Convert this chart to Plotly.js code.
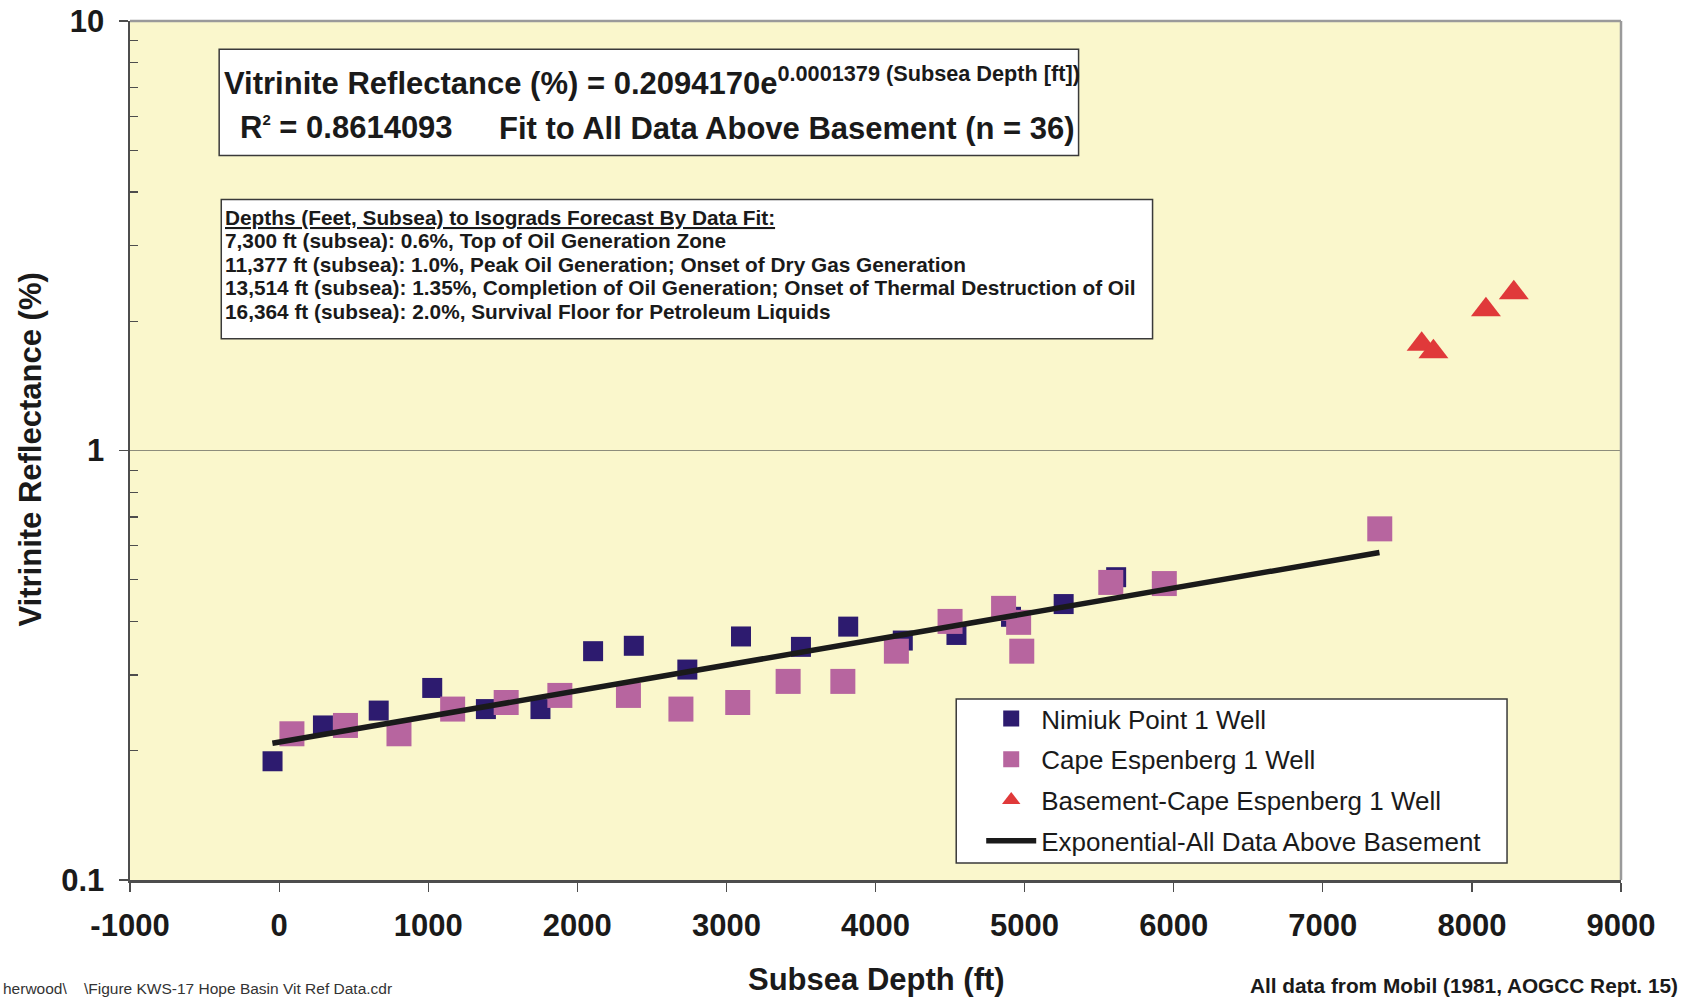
<!DOCTYPE html>
<html>
<head>
<meta charset="utf-8">
<script src="https://cdn.plot.ly/plotly-3.0.1.min.js"></script>
<style>
  html, body { margin: 0; padding: 0; background: #ffffff; }
  #chart { width: 1681px; height: 998px; }
</style>
</head>
<body>
<div id="chart"></div>
<script>
// ---------------- data ----------------
const nimiukDepth = [-44, 294, 668, 1027, 1387, 1753, 2106, 2379, 2738, 3098, 3500, 3817, 4183, 4543, 4909, 5262, 5614];
const nimiukVR    = [0.189, 0.229, 0.248, 0.280, 0.250, 0.250, 0.341, 0.351, 0.309, 0.369, 0.349, 0.389, 0.361, 0.372, 0.410, 0.439, 0.507];

const capeDepth = [86, 445, 804, 1164, 1523, 1883, 2343, 2695, 3076, 3414, 3781, 4140, 4500, 4859, 4960, 4981, 5578, 5937, 7382];
const capeVR    = [0.219, 0.229, 0.219, 0.250, 0.259, 0.269, 0.269, 0.250, 0.259, 0.290, 0.290, 0.341, 0.400, 0.429, 0.398, 0.341, 0.493, 0.490, 0.657];

const basementDepth = [7663, 7742, 8094, 8281];
const basementVR    = [1.768, 1.698, 2.126, 2.331];

const fitDepth = [-45, 7380];
const fitVR    = [0.2081, 0.5786];

const seriesNames = [
  "Nimiuk Point 1 Well",
  "Cape Espenberg 1 Well",
  "Basement-Cape Espenberg 1 Well",
  "Exponential-All Data Above Basement"
];

const xTickVals = [-1000, 0, 1000, 2000, 3000, 4000, 5000, 6000, 7000, 8000, 9000];
const xTickText = ["-1000", "0", "1000", "2000", "3000", "4000", "5000", "6000", "7000", "8000", "9000"];
const yTickVals = [0.1, 1, 10];
const yTickText = ["0.1", "1", "10"];
const yMinorVals = [0.2, 0.3, 0.4, 0.5, 0.6, 0.7, 0.8, 0.9, 2, 3, 4, 5, 6, 7, 8, 9];

const eqLine1 = "Vitrinite Reflectance (%) = 0.2094170e<sup>0.0001379 (Subsea Depth [ft])</sup>";
const eqLine2a = "R<sup><span style=\"font-size:15px\">2</span></sup> = 0.8614093";
const eqLine2b = "Fit to All Data Above Basement (n = 36)";
const isoLines = [
  "<span style=\"text-decoration:underline\">Depths (Feet, Subsea) to Isograds Forecast By Data Fit:</span>",
  "7,300 ft (subsea): 0.6%, Top of Oil Generation Zone",
  "11,377 ft (subsea): 1.0%, Peak Oil Generation; Onset of Dry Gas Generation",
  "13,514 ft (subsea): 1.35%, Completion of Oil Generation; Onset of Thermal Destruction of Oil",
  "16,364 ft (subsea): 2.0%, Survival Floor for Petroleum Liquids"
];
const xTitle = "Subsea Depth (ft)";
const yTitle = "Vitrinite Reflectance (%)";
const sourceNote = "All data from Mobil (1981, AOGCC Rept. 15)";
const fileNote = "herwood\\    \\Figure KWS-17 Hope Basin Vit Ref Data.cdr";

// ---------------- layout helpers ----------------
const W = 1681, H = 998;
const L = 129.5, R = 1621, T = 21, B = 880;
const px = p => (p - L) / (R - L);
const py = p => (B - p) / (B - T);
const FONT = "Liberation Sans, Arial, Helvetica, sans-serif";
const INK = "#1a1a1a";

const traces = [
  {
    x: nimiukDepth, y: nimiukVR, name: seriesNames[0], type: "scatter", mode: "markers",
    marker: { symbol: "square", size: 20, color: "#2d1b6f", line: { width: 0 } },
    legendgroup: "a"
  },
  {
    x: capeDepth, y: capeVR, name: seriesNames[1], type: "scatter", mode: "markers",
    marker: { symbol: "square", size: 25, color: "#b7659f", line: { width: 0 } },
    legendgroup: "b"
  },
  {
    x: basementDepth, y: basementVR, name: seriesNames[2], type: "scatter", mode: "markers",
    marker: { symbol: "triangle-up", size: 26, color: "#e0393a", line: { width: 0 } },
    legendgroup: "c"
  },
  {
    x: fitDepth, y: fitVR, name: seriesNames[3], type: "scatter", mode: "lines",
    line: { color: "#1a1a1a", width: 5.5 },
    legendgroup: "d"
  }
];

const boxLine = { color: "#3a3a3a", width: 1.5 };
const shapes = [
  // plot frame top / right (lighter grey)
  { type: "line", xref: "paper", yref: "paper", x0: 0, x1: 1, y0: 1, y1: 1, line: { color: "#9a9a9a", width: 2.5 } },
  { type: "line", xref: "paper", yref: "paper", x0: 1, x1: 1, y0: 0, y1: 1, line: { color: "#9a9a9a", width: 2.5 } },
  // equation box
  { type: "rect", xref: "paper", yref: "paper", x0: px(218.7), x1: px(1078.4), y0: py(155.4), y1: py(49.3),
    fillcolor: "#ffffff", line: boxLine, layer: "above" },
  // isograd box
  { type: "rect", xref: "paper", yref: "paper", x0: px(220.8), x1: px(1152.4), y0: py(338.8), y1: py(199.4),
    fillcolor: "#ffffff", line: boxLine, layer: "above" },
  // legend box
  { type: "rect", xref: "paper", yref: "paper", x0: px(956), x1: px(1507), y0: py(863), y1: py(699),
    fillcolor: "#ffffff", line: boxLine, layer: "above" }
];

const ann = (text, x, y, opts) => Object.assign({
  text: text, xref: "paper", yref: "paper", x: px(x), y: py(y),
  xanchor: "left", yanchor: "middle", showarrow: false, align: "left",
  font: { family: FONT, size: 20.8, color: INK, weight: "bold" }
}, opts || {});

const annotations = [
  ann(eqLine1, 222, 81, { font: { family: FONT, size: 31, color: INK, weight: "bold" } }),
  ann(eqLine2a, 238, 128, { font: { family: FONT, size: 31, color: INK, weight: "bold" } }),
  ann(eqLine2b, 497, 129, { font: { family: FONT, size: 31, color: INK, weight: "bold" } }),
  ann(isoLines[0], 223, 217.6),
  ann(isoLines[1], 223, 241),
  ann(isoLines[2], 223, 264),
  ann(isoLines[3], 223, 287.5),
  ann(isoLines[4], 223, 311),
  ann(xTitle, 876, 979, { xanchor: "center", font: { family: FONT, size: 31, color: INK, weight: "bold" } }),
  ann(yTitle, 29, 450, { xanchor: "center", textangle: -90, font: { family: FONT, size: 31, color: INK, weight: "bold" } }),
  ann(sourceNote, 1680, 985, { xanchor: "right" }),
  ann(fileNote, 0, 988, { font: { family: FONT, size: 15.5, color: "#333333", weight: "normal" } })
];

const layout = {
  width: W, height: H,
  margin: { l: L, r: W - R, t: T, b: H - B, pad: 0 },
  paper_bgcolor: "#ffffff",
  plot_bgcolor: "#faf7cc",
  showlegend: true,
  legend: {
    x: px(981), y: py(695), xanchor: "left", yanchor: "top",
    bgcolor: "rgba(0,0,0,0)", borderwidth: 0,
    itemwidth: 50, tracegroupgap: 4, traceorder: "grouped",
    font: { family: FONT, size: 26, color: INK }
  },
  xaxis: {
    type: "linear", range: [-1000, 9000], fixedrange: true,
    tickmode: "array", tickvals: xTickVals, ticktext: xTickText,
    ticks: "outside", ticklen: 9, tickwidth: 1.2, tickcolor: "#4d4d4d",
    ticklabelstandoff: 7,
    tickfont: { family: FONT, size: 31, color: INK, weight: "bold" },
    showgrid: false, zeroline: false,
    showline: true, linecolor: "#4d4d4d", linewidth: 2.5
  },
  yaxis: {
    type: "log", range: [-1, 1], fixedrange: true,
    tickmode: "array", tickvals: yTickVals, ticktext: yTickText,
    ticks: "outside", ticklen: 9, tickwidth: 1.2, tickcolor: "#4d4d4d",
    ticklabelstandoff: 8,
    tickfont: { family: FONT, size: 31, color: INK, weight: "bold" },
    showgrid: true, gridcolor: "#8d8d7c", gridwidth: 1.2, zeroline: false,
    showline: true, linecolor: "#4d4d4d", linewidth: 2.5,
    minor: { tickmode: "array", tickvals: yMinorVals, ticks: "inside", ticklen: 8, tickwidth: 1.2, tickcolor: "#4d4d4d", showgrid: false }
  },
  shapes: shapes,
  annotations: annotations
};

Plotly.newPlot("chart", traces, layout, { staticPlot: true, displayModeBar: false });
</script>
</body>
</html>
